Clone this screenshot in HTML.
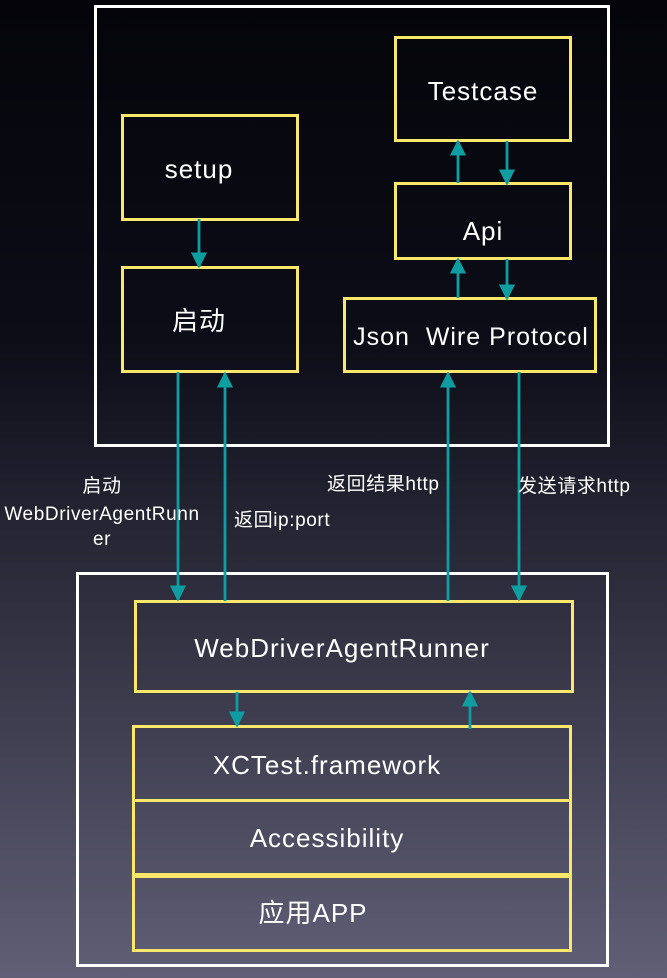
<!DOCTYPE html>
<html><head><meta charset="utf-8"><style>html,body{margin:0;padding:0;background:#000}</style></head><body>
<svg width="667" height="978" xmlns="http://www.w3.org/2000/svg" style="display:block;font-family:'Liberation Sans','Noto Sans CJK SC',sans-serif">
<defs>
<linearGradient id="bg" x1="0" y1="0" x2="0" y2="1">
<stop offset="0" stop-color="#04040a"/><stop offset="0.35" stop-color="#0d0d18"/><stop offset="1" stop-color="#605f76"/>
</linearGradient>
<marker id="ah" viewBox="0 0 10 10" refX="9" refY="5" markerWidth="5.8" markerHeight="5.8" orient="auto" markerUnits="strokeWidth">
<path d="M0,0L10,5L0,10z" fill="#0e9ea2"/></marker>
</defs>
<rect width="667" height="978" fill="url(#bg)"/>
<g fill="none" stroke="#fff" stroke-width="3">
<rect x="95.5" y="6.5" width="513" height="439"/>
<rect x="77.5" y="573.5" width="530" height="392"/>
</g>
<g fill="none" stroke="#fbe86a" stroke-width="3">
<rect x="122.5" y="115.5" width="175" height="104"/>
<rect x="122.5" y="267.5" width="175" height="104"/>
<rect x="395.5" y="37.5" width="175" height="103"/>
<rect x="395.5" y="183.5" width="175" height="75"/>
<rect x="344.5" y="298.5" width="251" height="73"/>
<rect x="135.5" y="601.5" width="437" height="90"/>
<rect x="133.5" y="726.5" width="437" height="74"/>
<rect x="133.5" y="800.5" width="437" height="74"/>
<rect x="133.5" y="876.5" width="437" height="74"/>
</g>
<g stroke="#0e9ea2" stroke-width="2.8" marker-end="url(#ah)">
<line x1="199" y1="219" x2="199" y2="267"/>
<line x1="458" y1="183" x2="458" y2="141"/>
<line x1="507" y1="141" x2="507" y2="184"/>
<line x1="458" y1="298" x2="458" y2="259"/>
<line x1="507" y1="259" x2="507" y2="299"/>
<line x1="178" y1="372" x2="178" y2="600"/>
<line x1="225" y1="601" x2="225" y2="373"/>
<line x1="448" y1="601" x2="448" y2="373"/>
<line x1="519" y1="372" x2="519" y2="600"/>
<line x1="237" y1="692" x2="237" y2="726"/>
<line x1="470" y1="729" x2="470" y2="692"/>
</g>
<g fill="#fff" font-size="26" letter-spacing="1" text-anchor="middle">
<text x="199" y="178">setup</text>
<text x="199" y="330">启动</text>
<text x="483" y="100">Testcase</text>
<text x="483" y="240">Api</text>
<text x="471" y="345" font-size="25" xml:space="preserve">Json  Wire Protocol</text>
<text x="342" y="657">WebDriverAgentRunner</text>
<text x="327" y="774">XCTest.framework</text>
<text x="327" y="847">Accessibility</text>
<text x="313" y="922">应用APP</text>
</g>
<g fill="#fff" font-size="19" letter-spacing="0.6">
<text x="102" y="492" text-anchor="middle">启动</text>
<text x="102" y="520" text-anchor="middle">WebDriverAgentRunn</text>
<text x="102" y="545" text-anchor="middle">er</text>
<text x="234" y="526">返回ip:port</text>
<text x="327" y="490">返回结果http</text>
<text x="518" y="492">发送请求http</text>
</g>
</svg>
</body></html>
